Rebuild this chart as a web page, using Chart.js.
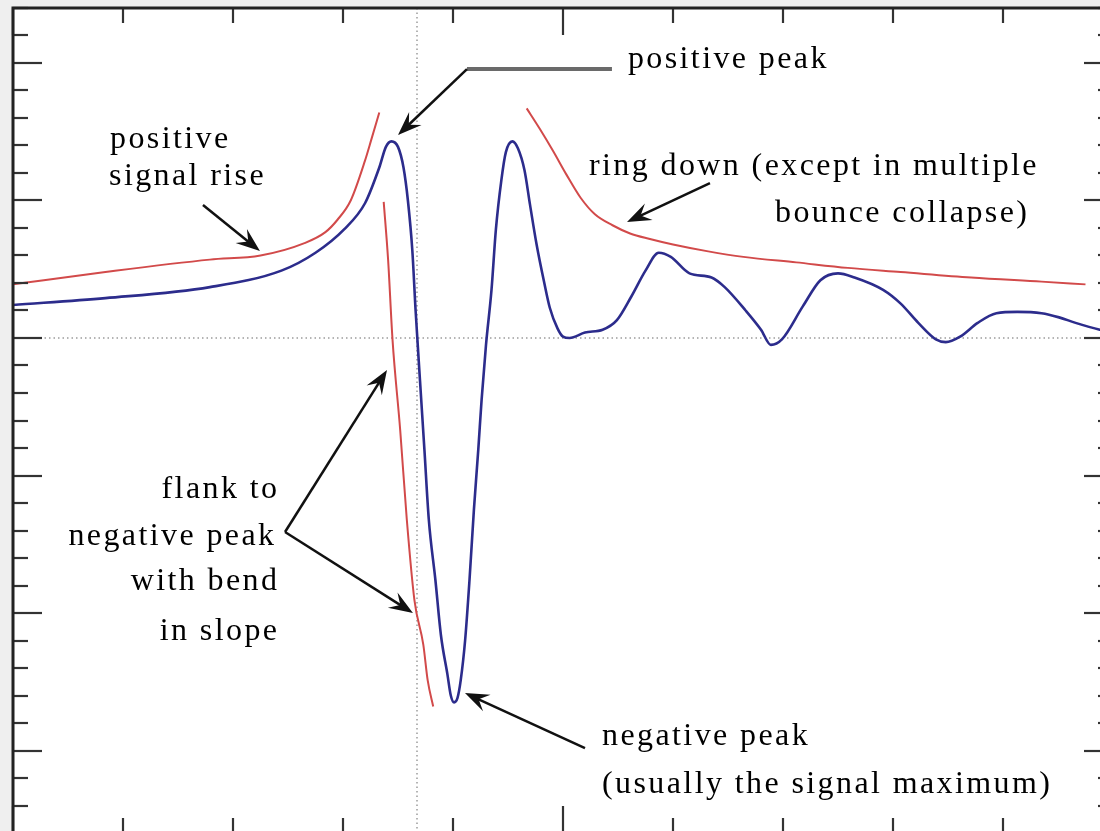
<!DOCTYPE html>
<html>
<head>
<meta charset="utf-8">
<title>Bubble collapse signal</title>
<script src="https://cdn.jsdelivr.net/npm/chart.js@4/dist/chart.umd.min.js"></script>
<style>
  html, body { margin: 0; padding: 0; background: #efefef; overflow: hidden; }
  canvas { display: block; }
</style>
</head>
<body>
<canvas id="signalChart" width="1130" height="850"></canvas>
<script>
// Measured signal (blue)
const signalTime = [0.00, 0.84, 1.79, 2.44, 2.75, 3.01, 3.20, 3.33, 3.39, 3.44, 3.50, 3.55, 3.59, 3.63, 3.66,
    3.70, 3.74, 3.78, 3.84, 3.89, 3.95, 3.98, 4.01, 4.04, 4.07, 4.11, 4.15, 4.19, 4.23, 4.26, 4.30, 4.35,
    4.39, 4.44, 4.48, 4.54, 4.59, 4.65, 4.70, 4.76, 4.83, 4.88, 4.95, 5.00, 5.06, 5.20, 5.36, 5.49, 5.62,
    5.75, 5.87, 5.98, 6.15, 6.35, 6.47, 6.66, 6.80, 6.89, 6.99, 7.18, 7.34, 7.50, 7.65, 7.91, 8.07, 8.23,
    8.39, 8.48, 8.61, 8.77, 8.94, 9.13, 9.35, 9.51, 9.66, 9.88, 10.00];
const signalAmp = [0.24, 0.29, 0.37, 0.49, 0.62, 0.79, 0.98, 1.24, 1.39, 1.43, 1.39, 1.24, 1.00, 0.64, 0.20,
    -0.31, -0.81, -1.32, -1.76, -2.16, -2.45, -2.60, -2.65, -2.62, -2.49, -2.20, -1.76, -1.25, -0.81, -0.45, -0.05, 0.35,
    0.79, 1.15, 1.35, 1.43, 1.38, 1.22, 0.97, 0.68, 0.40, 0.22, 0.07, 0.01, 0.00, 0.04, 0.06, 0.13, 0.30,
    0.49, 0.62, 0.59, 0.47, 0.44, 0.37, 0.20, 0.06, -0.05, -0.01, 0.23, 0.42, 0.47, 0.44, 0.35, 0.25, 0.11,
    -0.01, -0.03, 0.01, 0.11, 0.18, 0.19, 0.18, 0.15, 0.11, 0.06, 0.04];

// Envelope of the rising part
const riseTime = [0.00, 0.84, 1.79, 2.25, 2.65, 2.84, 2.95, 3.07, 3.20, 3.26, 3.33];
const riseAmp = [0.39, 0.48, 0.57, 0.60, 0.69, 0.77, 0.86, 1.00, 1.29, 1.45, 1.64];

// Flank towards the negative peak
const flankTime = [3.37, 3.41, 3.45, 3.52, 3.58, 3.65, 3.73, 3.77, 3.82];
const flankAmp = [0.99, 0.57, -0.01, -0.67, -1.32, -1.91, -2.23, -2.49, -2.68];

// Ring-down envelope
const ringTime = [4.67, 4.79, 4.91, 5.03, 5.16, 5.29, 5.45, 5.61, 5.79, 6.00, 6.32, 6.64, 7.12, 7.59, 8.07, 8.71, 9.35, 9.75];
const ringAmp = [1.67, 1.52, 1.36, 1.19, 1.02, 0.90, 0.82, 0.76, 0.72, 0.68, 0.63, 0.59, 0.55, 0.51, 0.48, 0.44, 0.41, 0.39];

// Axis ranges and tick spacing
const xRange = [0, 10];
const yRange = [-3.6, 2.4];
const xMinorStep = 1, xMajorStep = 5;
const yMinorStep = 0.2, yMajorStep = 1;
const markerTime = 3.67;

// Callouts: text lines and arrows, in axis units
const labels = [
    { text: 'positive peak', x: 5.59, y: 1.964, align: 'left' },
    { text: 'positive', x: 0.882, y: 1.382, align: 'left' },
    { text: 'signal rise', x: 0.873, y: 1.113, align: 'left' },
    { text: 'ring down (except in multiple', x: 5.236, y: 1.185, align: 'left' },
    { text: 'bounce collapse)', x: 9.218, y: 0.844, align: 'right' },
    { text: 'flank to', x: 2.40, y: -1.164, align: 'right' },
    { text: 'negative peak', x: 2.373, y: -1.505, align: 'right' },
    { text: 'with bend', x: 2.40, y: -1.833, align: 'right' },
    { text: 'in slope', x: 2.40, y: -2.196, align: 'right' },
    { text: 'negative peak', x: 5.355, y: -2.96, align: 'left' },
    { text: '(usually the signal maximum)', x: 5.355, y: -3.309, align: 'left' }
];
const arrows = [
    [[5.445, 1.956], [4.127, 1.956], [3.50, 1.476]],
    [[1.727, 0.967], [2.245, 0.633]],
    [[6.336, 1.127], [5.582, 0.844]],
    [[2.473, -1.411], [3.40, -0.233]],
    [[2.473, -1.411], [3.636, -2.00]],
    [[5.20, -2.982], [4.109, -2.582]]
];

const toPoints = (xs, ys) => xs.map((x, i) => ({ x: x, y: ys[i] }));

function drawTicks(ctx, scale, step, majorStep, from, dir, minorLen, majorLen, horizontal) {
    const n = Math.round((scale.max - scale.min) / step);
    for (let i = 0; i <= n; i++) {
        const v = scale.min + i * step;
        const r = v / majorStep;
        const isMajor = Math.abs(r - Math.round(r)) < 1e-6;
        const len = isMajor ? majorLen : minorLen;
        const p = Math.round(scale.getPixelForValue(v));
        ctx.beginPath();
        if (horizontal) {
            ctx.moveTo(p, from);
            ctx.lineTo(p, from + dir * len);
        } else {
            ctx.moveTo(from, p);
            ctx.lineTo(from + dir * len, p);
        }
        ctx.stroke();
    }
}

function arrowHead(ctx, x0, y0, x1, y1) {
    const ang = Math.atan2(y1 - y0, x1 - x0);
    const L = 24, W = 9, notch = 15;
    const c = Math.cos(ang), s = Math.sin(ang);
    ctx.beginPath();
    ctx.moveTo(x1, y1);
    ctx.lineTo(x1 - L * c + W * s, y1 - L * s - W * c);
    ctx.lineTo(x1 - notch * c, y1 - notch * s);
    ctx.lineTo(x1 - L * c - W * s, y1 - L * s + W * c);
    ctx.closePath();
    ctx.fill();
}

const framePlugin = {
    id: 'frame',
    beforeDraw(chart) {
        const { ctx, chartArea: a } = chart;
        const xs = chart.scales.x, ys = chart.scales.y;
        ctx.save();
        ctx.fillStyle = '#efefef';
        ctx.fillRect(0, 0, chart.width, chart.height);
        ctx.fillStyle = '#ffffff';
        ctx.fillRect(a.left, a.top, a.right - a.left, a.bottom - a.top);

        // dotted zero line and time marker
        ctx.strokeStyle = '#9c9c9c';
        ctx.lineWidth = 1.5;
        ctx.setLineDash([1.5, 3]);
        const y0 = Math.round(ys.getPixelForValue(0));
        ctx.beginPath();
        ctx.moveTo(a.left, y0);
        ctx.lineTo(a.right, y0);
        ctx.stroke();
        const xm = Math.round(xs.getPixelForValue(markerTime));
        ctx.beginPath();
        ctx.moveTo(xm, a.top);
        ctx.lineTo(xm, a.bottom);
        ctx.stroke();
        ctx.restore();
    },
    afterDatasetsDraw(chart) {
        const { ctx, chartArea: a } = chart;
        const xs = chart.scales.x, ys = chart.scales.y;
        const px = (p) => [xs.getPixelForValue(p[0]), ys.getPixelForValue(p[1])];
        ctx.save();

        // inward ticks on all four sides
        ctx.strokeStyle = '#333';
        ctx.lineWidth = 2.2;
        drawTicks(ctx, xs, xMinorStep, xMajorStep, a.top, 1, 15, 27, true);
        drawTicks(ctx, xs, xMinorStep, xMajorStep, a.bottom, -1, 15, 27, true);
        drawTicks(ctx, ys, yMinorStep, yMajorStep, a.left, 1, 15, 29, false);
        drawTicks(ctx, ys, yMinorStep, yMajorStep, a.right, -1, 15, 29, false);

        // frame
        ctx.strokeStyle = '#222';
        ctx.lineWidth = 3;
        ctx.strokeRect(a.left, a.top, a.right - a.left, a.bottom - a.top);

        // callout arrows
        ctx.fillStyle = '#111';
        ctx.lineCap = 'butt';
        arrows.forEach((pts) => {
            const p = pts.map(px);
            for (let i = 0; i < p.length - 1; i++) {
                const last = i === p.length - 2;
                const flat = Math.abs(p[i][1] - p[i + 1][1]) < 0.5;
                ctx.strokeStyle = flat ? '#6a6a6a' : '#111';
                ctx.lineWidth = flat ? 4 : 2.5;
                ctx.beginPath();
                ctx.moveTo(p[i][0], p[i][1]);
                if (last) {
                    const ang = Math.atan2(p[i + 1][1] - p[i][1], p[i + 1][0] - p[i][0]);
                    ctx.lineTo(p[i + 1][0] - 12 * Math.cos(ang), p[i + 1][1] - 12 * Math.sin(ang));
                } else {
                    ctx.lineTo(p[i + 1][0], p[i + 1][1]);
                }
                ctx.stroke();
            }
            const n = p.length;
            arrowHead(ctx, p[n - 2][0], p[n - 2][1], p[n - 1][0], p[n - 1][1]);
        });

        // callout text
        ctx.fillStyle = '#000';
        ctx.font = '32px "Liberation Serif"';
        ctx.letterSpacing = '2.4px';
        ctx.textBaseline = 'alphabetic';
        labels.forEach((l) => {
            const [x, y] = px([l.x, l.y]);
            ctx.textAlign = l.align;
            ctx.fillText(l.text, l.align === 'right' ? x + 2.4 : x, y);
        });
        ctx.restore();
    }
};

new Chart(document.getElementById('signalChart'), {
    type: 'line',
    data: {
        datasets: [
            { data: toPoints(riseTime, riseAmp), borderColor: '#d24a4a', borderWidth: 2 },
            { data: toPoints(flankTime, flankAmp), borderColor: '#d24a4a', borderWidth: 2 },
            { data: toPoints(ringTime, ringAmp), borderColor: '#d24a4a', borderWidth: 2 },
            { data: toPoints(signalTime, signalAmp), borderColor: '#2c2c8c', borderWidth: 2.6 }
        ]
    },
    options: {
        responsive: false,
        animation: false,
        devicePixelRatio: 1,
        layout: { padding: { left: 13, top: 8, right: 17, bottom: 17 } },
        elements: {
            point: { radius: 0 },
            line: { cubicInterpolationMode: 'monotone', fill: false }
        },
        scales: {
            x: { type: 'linear', min: xRange[0], max: xRange[1], display: false },
            y: { type: 'linear', min: yRange[0], max: yRange[1], display: false }
        },
        plugins: { legend: { display: false }, tooltip: { enabled: false } }
    },
    plugins: [framePlugin]
});
</script>
</body>
</html>
